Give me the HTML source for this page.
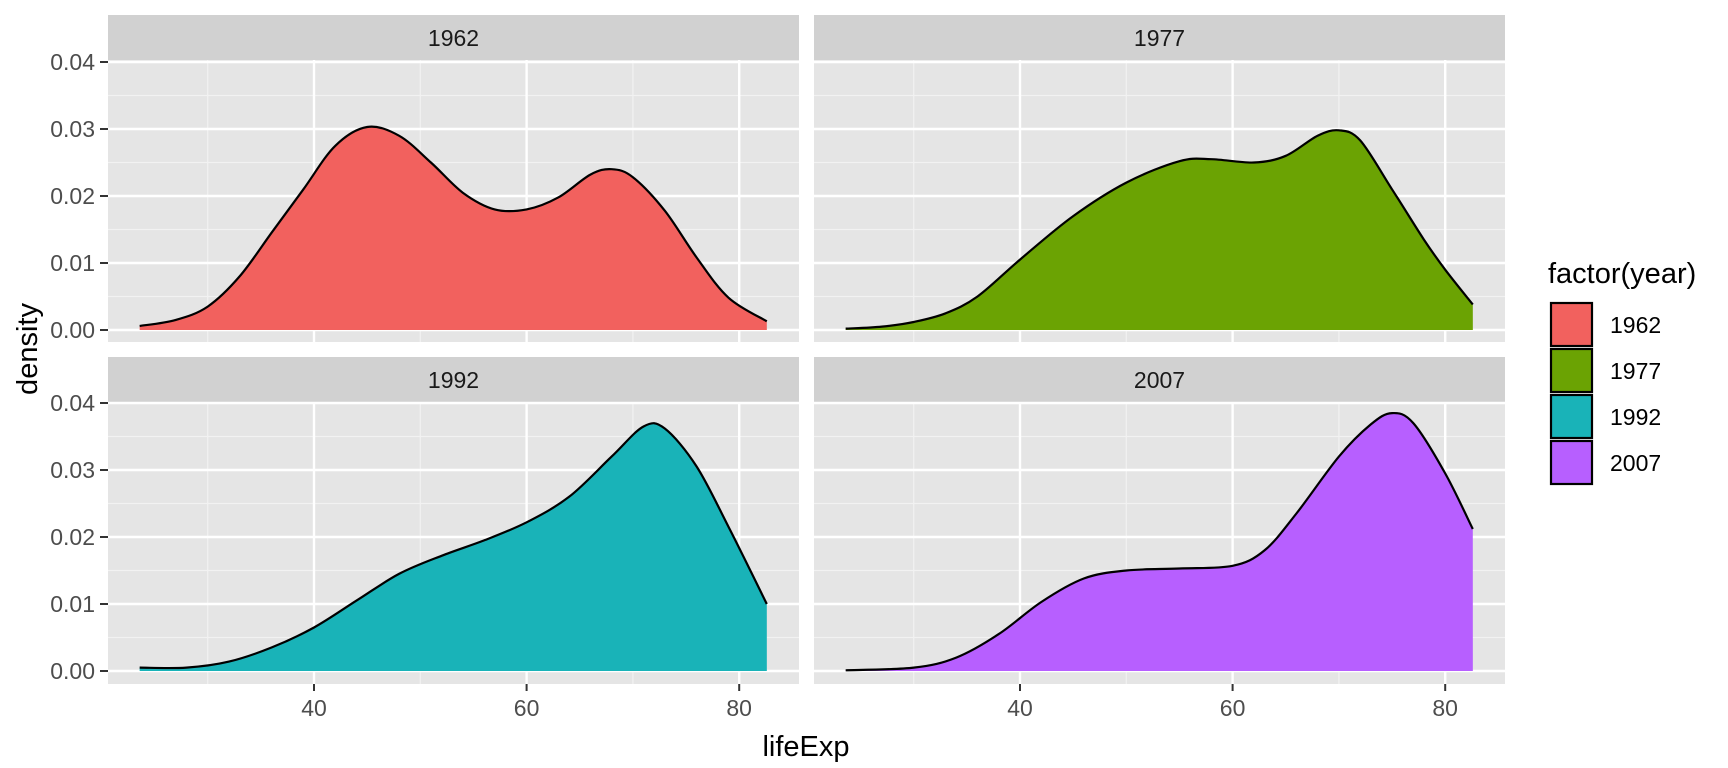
<!DOCTYPE html>
<html><head><meta charset="utf-8"><style>
html,body{margin:0;padding:0;background:#fff}
svg{display:block}
text{font-family:"Liberation Sans",sans-serif}
</style></head><body>
<svg id="s" width="1728" height="768" xmlns="http://www.w3.org/2000/svg"></svg>
<script>
const s=document.getElementById('s');
let h='';
const X=v=>314+(v-40)*10.63;
const panels=[
 {dx:0,top:15,y0:330,lab:'1962',fill:'#F2615E',bottom:false,left:true,
  d:[[23.6,.0006],[27,.0015],[30,.0035],[33,.008],[36,.0145],[39,.021],[42,.0275],[45,.0303],[48,.029],[51,.025],[54,.0205],[57,.018],[60,.018],[63,.0198],[66,.0232],[68,.024],[70,.0228],[73,.0178],[76,.0108],[79,.0048],[82.6,.0013]]},
 {dx:706,top:15,y0:330,lab:'1977',fill:'#6BA303',bottom:false,left:false,
  d:[[23.6,.0002],[27,.0005],[30,.0012],[33,.0025],[36,.005],[40,.0105],[45,.017],[50,.022],[55,.0252],[58,.0255],[62,.025],[65,.026],[68,.029],[70,.0298],[72,.0283],[75,.021],[78,.0135],[80,.009],[82.6,.0038]]},
 {dx:0,top:357,y0:671,lab:'1992',fill:'#19B3B8',bottom:true,left:true,
  d:[[23.6,.0005],[28,.0005],[32,.0014],[36,.0035],[40,.0065],[44,.0105],[48,.0145],[52,.0172],[56,.0195],[60,.0222],[64,.026],[68,.032],[71,.0365],[73,.0362],[76,.0305],[79,.0215],[82.6,.010]]},
 {dx:706,top:357,y0:671,lab:'2007',fill:'#B75FFF',bottom:true,left:false,
  d:[[23.6,.0001],[30,.0005],[34,.002],[38,.0055],[42,.0103],[46,.0138],[50,.015],[55,.0153],[60,.0157],[63,.018],[66,.0235],[70,.032],[73,.0368],[75,.0385],[77,.037],[80,.0295],[82.6,.0212]]}
];
function path(pts){
 let p='M'+pts[0][0]+','+pts[0][1];
 for(let i=0;i<pts.length-1;i++){
  const p0=pts[i-1]||pts[i],p1=pts[i],p2=pts[i+1],p3=pts[i+2]||p2;
  const c1=[p1[0]+(p2[0]-p0[0])/6,p1[1]+(p2[1]-p0[1])/6];
  const c2=[p2[0]-(p3[0]-p1[0])/6,p2[1]-(p3[1]-p1[1])/6];
  p+=`C${c1[0].toFixed(1)},${c1[1].toFixed(1)} ${c2[0].toFixed(1)},${c2[1].toFixed(1)} ${p2[0].toFixed(1)},${p2[1].toFixed(1)}`;
 }
 return p;
}
for(const P of panels){
 const L=108+P.dx,R=799+P.dx,T=P.top+45,B=P.top+327;
 const Y=v=>P.y0-v*6700;
 h+=`<rect x="${L}" y="${P.top}" width="${R-L}" height="45" fill="#D1D1D1"/>`;
 h+=`<text x="${(L+R)/2}" y="${P.top+31}" font-size="23" text-anchor="middle" fill="#1a1a1a">${P.lab}</text>`;
 h+=`<rect x="${L}" y="${T}" width="${R-L}" height="${B-T}" fill="#E5E5E5"/>`;
 for(const v of [30,50,70]) h+=`<line x1="${X(v)+P.dx}" x2="${X(v)+P.dx}" y1="${T}" y2="${B}" stroke="#F2F2F2" stroke-width="1.2"/>`;
 for(const v of [.005,.015,.025,.035]) h+=`<line x1="${L}" x2="${R}" y1="${Y(v)}" y2="${Y(v)}" stroke="#F2F2F2" stroke-width="1.2"/>`;
 for(const v of [40,60,80]) h+=`<line x1="${X(v)+P.dx}" x2="${X(v)+P.dx}" y1="${T}" y2="${B}" stroke="#fff" stroke-width="2.4"/>`;
 for(const v of [0,.01,.02,.03,.04]) h+=`<line x1="${L}" x2="${R}" y1="${Y(v)}" y2="${Y(v)}" stroke="#fff" stroke-width="2.4"/>`;
 const pts=P.d.map(([a,b])=>[X(a)+P.dx,Y(b)]);
 const line=path(pts);
 const last=pts[pts.length-1],first=pts[0];
 h+=`<path d="${line}L${last[0]},${P.y0}L${first[0]},${P.y0}Z" fill="${P.fill}"/>`;
 h+=`<path d="${line}" fill="none" stroke="#000" stroke-width="2.2"/>`;
 if(P.left){
  for(const v of [0,.01,.02,.03,.04]){
   h+=`<line x1="100" x2="108" y1="${Y(v)}" y2="${Y(v)}" stroke="#333" stroke-width="2"/>`;
   h+=`<text x="95" y="${Y(v)+8}" font-size="23" text-anchor="end" fill="#4D4D4D">${v.toFixed(2)}</text>`;
  }
 }
 if(P.bottom){
  for(const v of [40,60,80]){
   h+=`<line x1="${X(v)+P.dx}" x2="${X(v)+P.dx}" y1="${B}" y2="${B+7}" stroke="#333" stroke-width="2"/>`;
   h+=`<text x="${X(v)+P.dx}" y="${B+32}" font-size="23" text-anchor="middle" fill="#4D4D4D">${v}</text>`;
  }
 }
}
h+=`<text x="806" y="756" font-size="29" text-anchor="middle" fill="#000">lifeExp</text>`;
h+=`<text transform="translate(37,349) rotate(-90)" font-size="29" text-anchor="middle" fill="#000">density</text>`;
h+=`<text x="1548" y="283" font-size="29" fill="#000">factor(year)</text>`;
const lg=[['1962','#F2615E'],['1977','#6BA303'],['1992','#19B3B8'],['2007','#B75FFF']];
lg.forEach(([t,c],i)=>{
 const y=302+i*46;
 h+=`<rect x="1551" y="${y+1}" width="41" height="43" fill="${c}" stroke="#000" stroke-width="2.2"/>`;
 h+=`<text x="1610" y="${y+31}" font-size="23" fill="#000">${t}</text>`;
});
s.innerHTML=h;
</script>
</body></html>
